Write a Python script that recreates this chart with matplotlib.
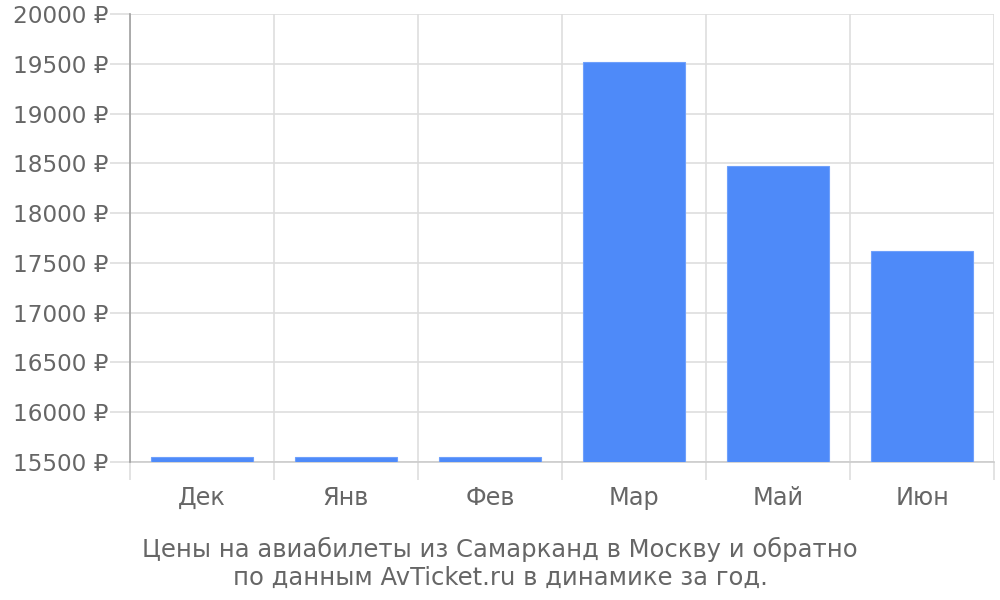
import matplotlib
matplotlib.use("Agg")
import matplotlib.pyplot as plt
from matplotlib.ticker import FixedLocator

plt.rcParams["font.family"] = ["DejaVu Sans", "Noto Sans"]

months = ["Дек", "Янв", "Фев", "Мар", "Май", "Июн"]
prices = [15555, 15555, 15555, 19520, 18476, 17615]
y_ticks = [15500, 16000, 16500, 17000, 17500, 18000, 18500, 19000, 19500, 20000]
caption = ("Цены на авиабилеты из Самарканд в Москву и обратно\n"
           "по данным AvTicket.ru в динамике за год.")

BAR = "#4e8af9"
GRID = "#dedede"
TXT = "#666666"

fig = plt.figure(figsize=(10, 6), dpi=100)
ax = fig.add_axes([0.13, 0.23, 0.864, 0.7467])

base = y_ticks[0]
ax.bar(range(len(months)), [p - base for p in prices], bottom=base, width=0.71,
       color=BAR, edgecolor="#6fa0fb", linewidth=0.8, zorder=3)

ax.set_xlim(-0.5, len(months) - 0.5)
ax.set_ylim(y_ticks[0], y_ticks[-1])

ax.set_yticks(y_ticks)
ax.set_yticklabels([f"{v} ₽" for v in y_ticks])
ax.set_xticks(range(len(months)))
ax.set_xticklabels(months)
ax.xaxis.set_minor_locator(FixedLocator([i - 0.5 for i in range(len(months) + 1)]))

ax.tick_params(axis="y", which="major", length=14.5, color=GRID, width=1.2,
               labelsize=16.7, labelcolor=TXT, pad=1)
ax.tick_params(axis="x", which="major", length=0, labelsize=17.3,
               labelcolor=TXT, pad=17.5)
ax.tick_params(axis="x", which="minor", length=13, color=GRID, width=1.2)

ax.grid(axis="y", which="major", color=GRID, linewidth=1.2, zorder=0)
ax.grid(axis="x", which="minor", color=GRID, linewidth=1.2, zorder=0)

for s in ("top", "right"):
    ax.spines[s].set_visible(False)
ax.spines["bottom"].set_color("#cccccc")
ax.spines["bottom"].set_linewidth(1.2)
ax.spines["left"].set_color("#a0a0a0")
ax.spines["left"].set_linewidth(1.2)
ax.spines["left"].set_bounds(y_ticks[0], y_ticks[-1])
ax.spines["left"].set_zorder(4)

fig.text(0.5, 0.061, caption, ha="center", va="center", fontsize=17.5,
         color=TXT, linespacing=1.2)

fig.savefig("out.png", dpi=100, facecolor="white")
